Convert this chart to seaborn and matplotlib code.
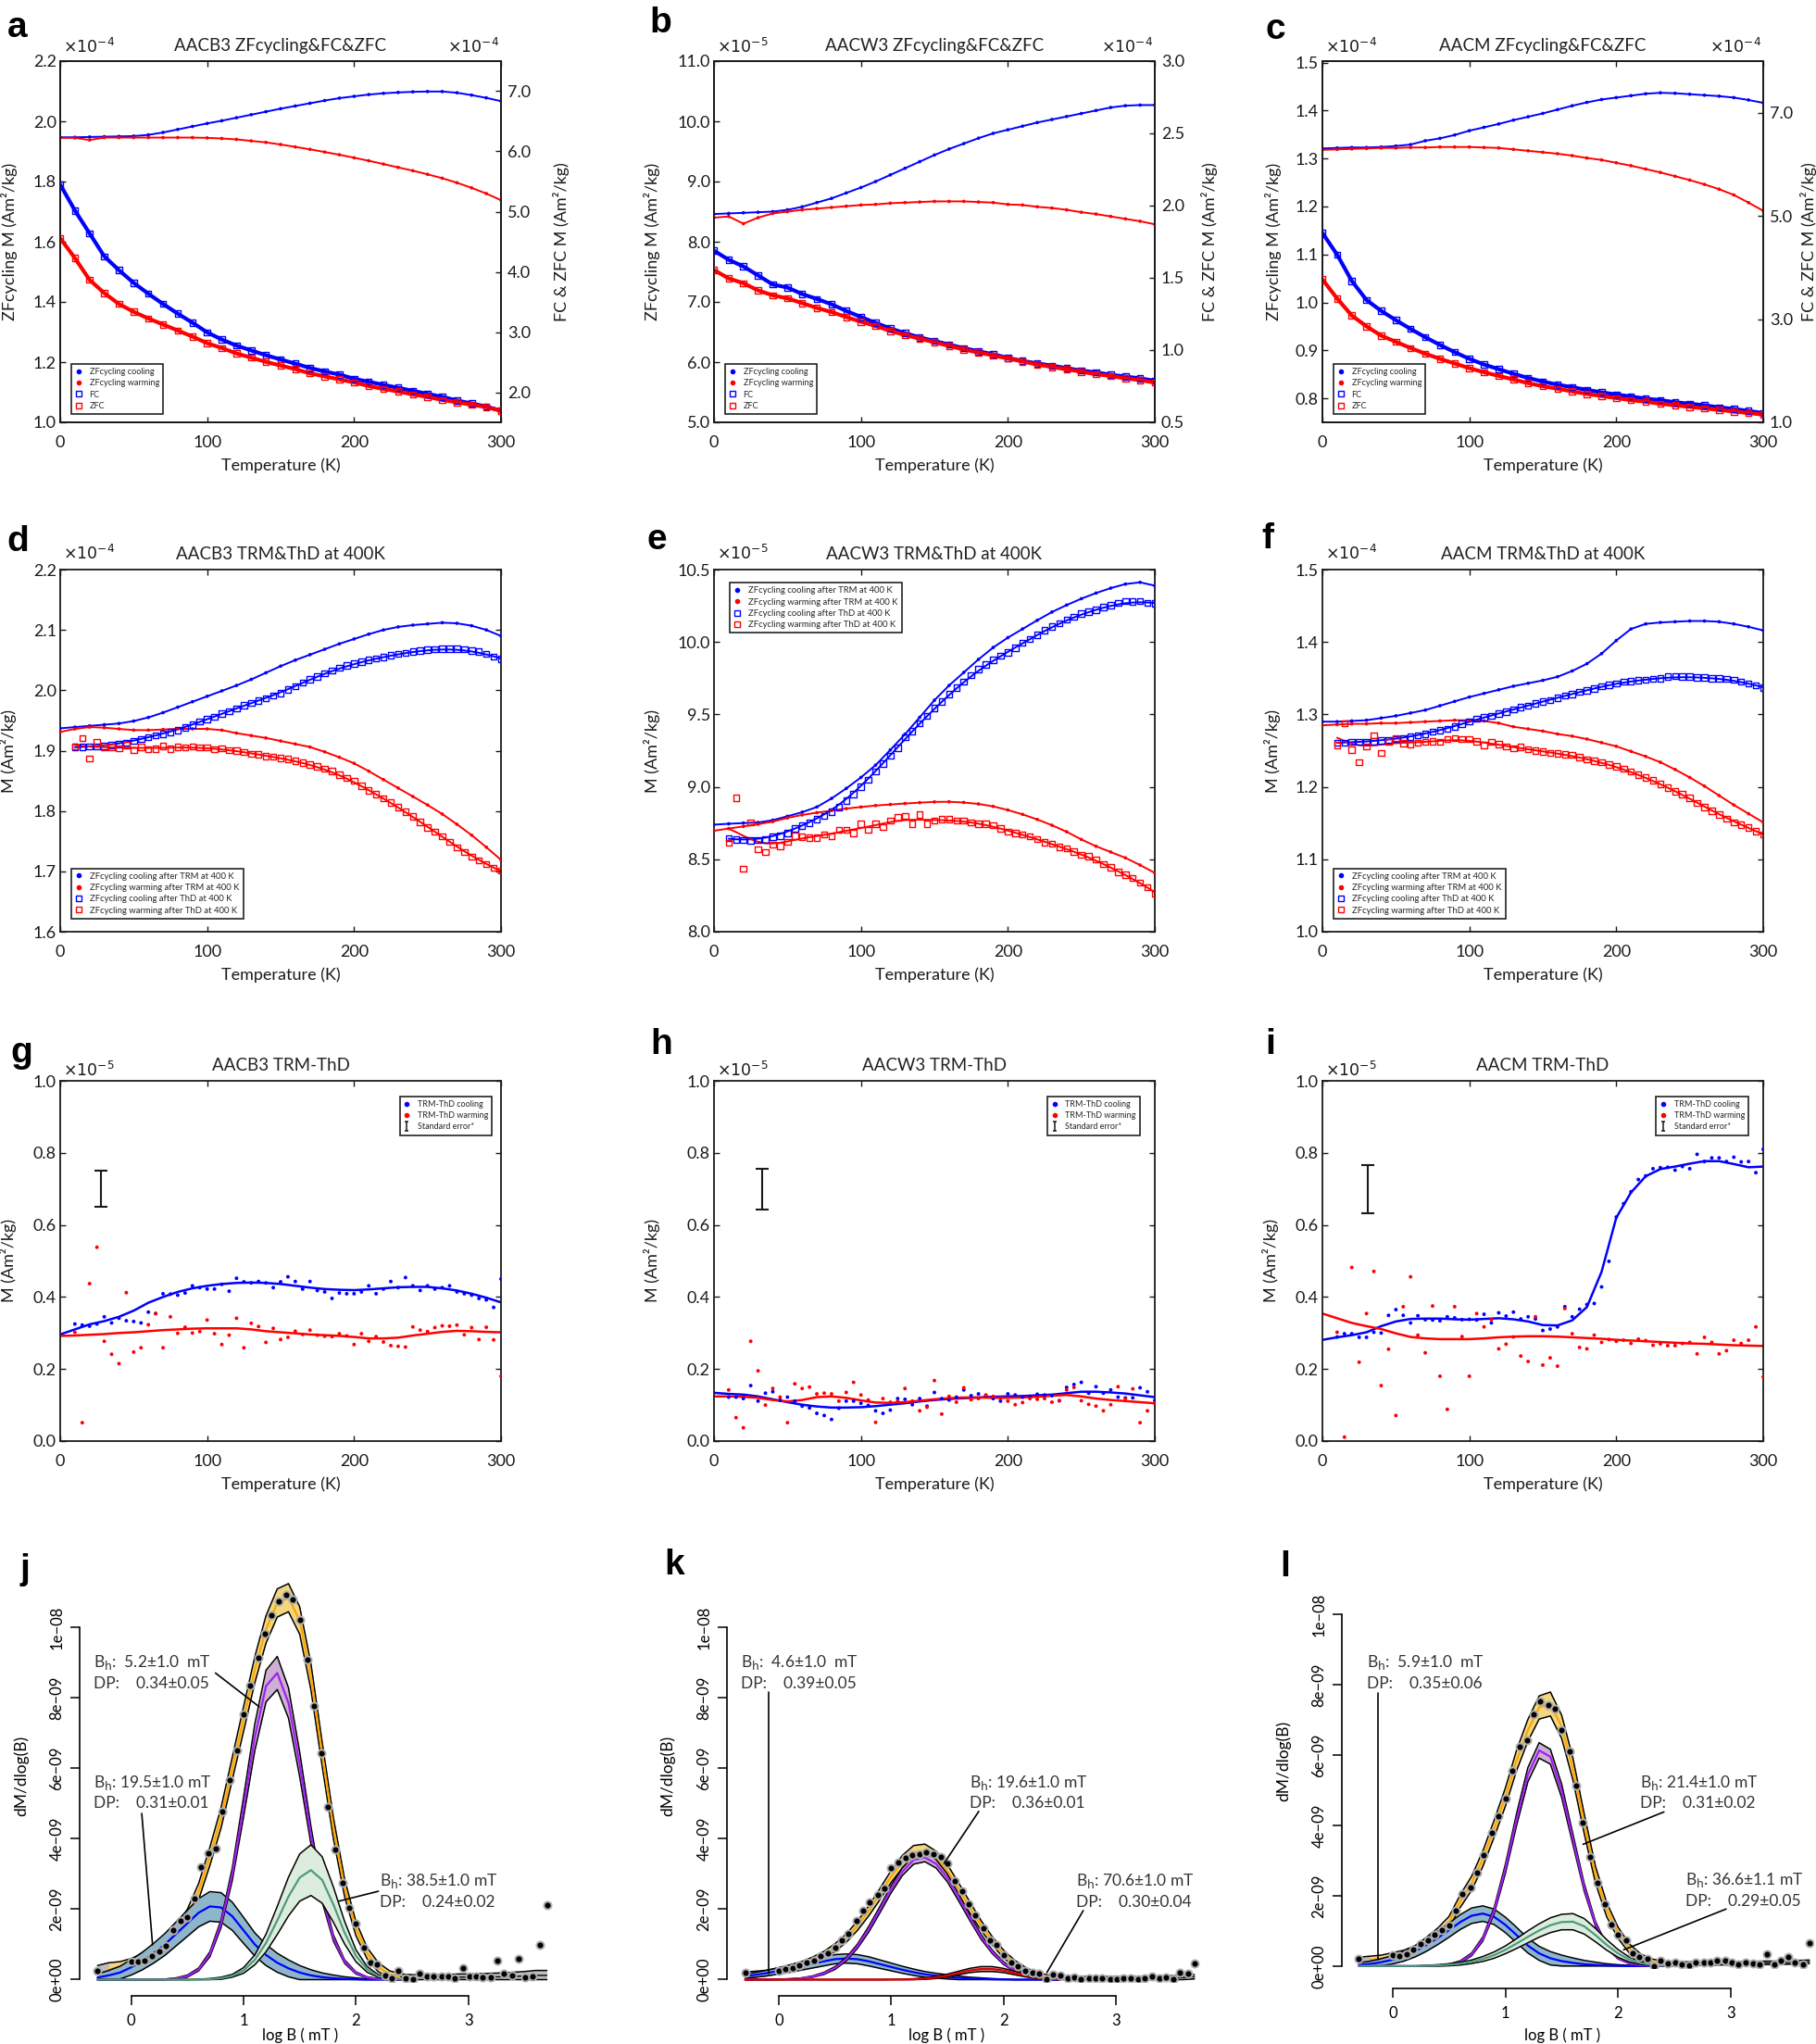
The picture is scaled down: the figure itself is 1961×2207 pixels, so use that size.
import numpy as np
import matplotlib
matplotlib.use("Agg")
import matplotlib.pyplot as plt
import seaborn as sns
from matplotlib.lines import Line2D
from matplotlib.path import Path

W, H = 1961, 2207

# temperature grids (K)
T10 = list(range(0, 301, 10))
TS = list(range(10, 301, 5))

# ---- a-c: ZFcycling (left axis) and FC / ZFC (right axis) ----
a_cool = [1.947, 1.947, 1.948, 1.949, 1.950, 1.951, 1.955, 1.963, 1.973, 1.983, 1.993, 2.002, 2.012, 2.022, 2.032, 2.042,
          2.051, 2.060, 2.069, 2.077, 2.083, 2.089, 2.093, 2.096, 2.098, 2.099, 2.099, 2.095, 2.087, 2.078, 2.067]
a_warm = [1.945, 1.945, 1.938, 1.946, 1.946, 1.946, 1.946, 1.946, 1.946, 1.946, 1.945, 1.943, 1.940, 1.935, 1.930, 1.923,
          1.915, 1.907, 1.898, 1.889, 1.879, 1.869, 1.858, 1.847, 1.836, 1.824, 1.811, 1.796, 1.779, 1.760, 1.738]
a_fc = [5.45, 5.02, 4.64, 4.26, 4.03, 3.82, 3.64, 3.47, 3.31, 3.16, 3.00, 2.88, 2.78, 2.70, 2.62, 2.55,
        2.48, 2.41, 2.35, 2.30, 2.23, 2.18, 2.13, 2.08, 2.03, 1.98, 1.93, 1.87, 1.82, 1.77, 1.70]
a_zfc = [4.56, 4.23, 3.87, 3.65, 3.47, 3.34, 3.23, 3.13, 3.03, 2.93, 2.82, 2.74, 2.65, 2.58, 2.51, 2.45,
         2.39, 2.32, 2.27, 2.22, 2.17, 2.11, 2.06, 2.02, 1.97, 1.93, 1.88, 1.84, 1.80, 1.76, 1.70]

b_cool = [8.46, 8.47, 8.48, 8.49, 8.50, 8.53, 8.58, 8.65, 8.72, 8.81, 8.90, 9.00, 9.11, 9.22, 9.33, 9.44,
          9.54, 9.63, 9.72, 9.80, 9.86, 9.92, 9.98, 10.03, 10.08, 10.13, 10.18, 10.23, 10.26, 10.27, 10.27]
b_warm = [8.40, 8.42, 8.30, 8.40, 8.47, 8.50, 8.53, 8.55, 8.57, 8.59, 8.61, 8.62, 8.64, 8.65, 8.66, 8.67,
          8.67, 8.67, 8.66, 8.65, 8.62, 8.61, 8.58, 8.56, 8.53, 8.49, 8.46, 8.42, 8.38, 8.34, 8.29]
b_fc = [1.688, 1.625, 1.579, 1.517, 1.454, 1.433, 1.388, 1.354, 1.317, 1.271, 1.229, 1.188, 1.150, 1.117, 1.088, 1.063,
        1.038, 1.013, 0.992, 0.971, 0.946, 0.925, 0.908, 0.892, 0.875, 0.858, 0.846, 0.829, 0.817, 0.804, 0.788]
b_zfc = [1.554, 1.496, 1.463, 1.413, 1.379, 1.358, 1.325, 1.292, 1.263, 1.229, 1.196, 1.167, 1.133, 1.104, 1.079, 1.054,
         1.029, 1.004, 0.983, 0.963, 0.942, 0.921, 0.900, 0.883, 0.867, 0.850, 0.833, 0.821, 0.804, 0.792, 0.775]

c_cool = [1.321, 1.322, 1.323, 1.323, 1.324, 1.326, 1.329, 1.337, 1.342, 1.349, 1.358, 1.365, 1.372, 1.380, 1.387, 1.394,
          1.402, 1.410, 1.417, 1.423, 1.427, 1.431, 1.435, 1.437, 1.436, 1.434, 1.432, 1.430, 1.427, 1.422, 1.416]
c_warm = [1.318, 1.319, 1.320, 1.321, 1.322, 1.322, 1.323, 1.323, 1.324, 1.324, 1.324, 1.323, 1.322, 1.319, 1.316, 1.313,
          1.310, 1.306, 1.301, 1.297, 1.291, 1.285, 1.278, 1.271, 1.263, 1.255, 1.246, 1.236, 1.224, 1.208, 1.191]
c_fc = [4.67, 4.25, 3.74, 3.37, 3.16, 2.98, 2.81, 2.65, 2.50, 2.36, 2.23, 2.12, 2.03, 1.94, 1.86, 1.79,
        1.73, 1.68, 1.63, 1.58, 1.54, 1.50, 1.46, 1.43, 1.39, 1.36, 1.33, 1.29, 1.26, 1.22, 1.18]
c_zfc = [3.77, 3.40, 3.07, 2.86, 2.68, 2.56, 2.44, 2.33, 2.23, 2.14, 2.05, 1.97, 1.90, 1.83, 1.76, 1.70,
         1.65, 1.60, 1.55, 1.51, 1.47, 1.43, 1.40, 1.36, 1.33, 1.30, 1.27, 1.24, 1.21, 1.18, 1.15]

# ---- d-f: TRM and ThD at 400 K ----
d_trm_cool = [1.937, 1.939, 1.941, 1.943, 1.945, 1.949, 1.955, 1.963, 1.972, 1.981, 1.990, 1.999, 2.008, 2.018, 2.029, 2.040,
              2.050, 2.059, 2.068, 2.077, 2.085, 2.093, 2.100, 2.105, 2.108, 2.110, 2.112, 2.111, 2.107, 2.100, 2.090]
d_trm_warm = [1.931, 1.936, 1.939, 1.938, 1.936, 1.934, 1.934, 1.935, 1.936, 1.936, 1.936, 1.934, 1.929, 1.925, 1.921, 1.916,
              1.911, 1.906, 1.898, 1.889, 1.879, 1.866, 1.852, 1.838, 1.824, 1.810, 1.795, 1.778, 1.760, 1.740, 1.719]
d_thd_cool = [1.906, 1.906, 1.907, 1.907, 1.908, 1.909, 1.911, 1.913, 1.916, 1.919,
              1.922, 1.925, 1.928, 1.931, 1.934, 1.938, 1.943, 1.948, 1.952, 1.956,
              1.961, 1.965, 1.970, 1.975, 1.979, 1.983, 1.987, 1.991, 1.995, 2.001,
              2.007, 2.013, 2.018, 2.023, 2.028, 2.033, 2.037, 2.041, 2.044, 2.047,
              2.050, 2.053, 2.055, 2.058, 2.060, 2.062, 2.064, 2.066, 2.067, 2.068,
              2.069, 2.069, 2.069, 2.068, 2.066, 2.064, 2.060, 2.056, 2.052]
d_thd_warm = [1.907, 1.921, 1.887, 1.914, 1.905, 1.906, 1.904, 1.909, 1.901, 1.906,
              1.902, 1.903, 1.908, 1.903, 1.906, 1.905, 1.907, 1.905, 1.905, 1.902,
              1.904, 1.901, 1.900, 1.898, 1.895, 1.894, 1.891, 1.890, 1.888, 1.886,
              1.883, 1.880, 1.877, 1.874, 1.870, 1.866, 1.860, 1.855, 1.850, 1.842,
              1.834, 1.828, 1.821, 1.814, 1.806, 1.799, 1.791, 1.782, 1.773, 1.766,
              1.758, 1.749, 1.740, 1.732, 1.724, 1.718, 1.712, 1.706, 1.701]

e_trm_cool = [8.739, 8.745, 8.750, 8.754, 8.770, 8.797, 8.825, 8.861, 8.920, 8.989, 9.065, 9.150, 9.255, 9.363, 9.480, 9.598,
              9.700, 9.790, 9.880, 9.962, 10.030, 10.090, 10.150, 10.207, 10.255, 10.299, 10.338, 10.372, 10.400, 10.412, 10.389]
e_trm_warm = [8.697, 8.712, 8.727, 8.742, 8.760, 8.786, 8.806, 8.822, 8.836, 8.850, 8.861, 8.871, 8.878, 8.885, 8.891, 8.896,
              8.897, 8.892, 8.882, 8.865, 8.840, 8.810, 8.775, 8.735, 8.690, 8.637, 8.590, 8.550, 8.510, 8.460, 8.406]
e_thd_cool = [8.647, 8.637, 8.632, 8.630, 8.632, 8.636, 8.654, 8.662, 8.680, 8.712,
              8.733, 8.752, 8.776, 8.800, 8.829, 8.860, 8.904, 8.950, 9.000, 9.050,
              9.107, 9.160, 9.214, 9.270, 9.342, 9.385, 9.438, 9.490, 9.545, 9.590,
              9.641, 9.685, 9.726, 9.770, 9.812, 9.845, 9.876, 9.905, 9.929, 9.960,
              9.994, 10.020, 10.050, 10.080, 10.107, 10.130, 10.154, 10.175, 10.197, 10.210,
              10.222, 10.240, 10.254, 10.270, 10.282, 10.280, 10.282, 10.270, 10.265]
e_thd_warm = [8.615, 8.925, 8.434, 8.754, 8.568, 8.551, 8.600, 8.590, 8.620, 8.662,
              8.654, 8.650, 8.650, 8.671, 8.660, 8.703, 8.703, 8.682, 8.746, 8.703,
              8.746, 8.724, 8.767, 8.788, 8.799, 8.746, 8.810, 8.746, 8.767, 8.778,
              8.778, 8.767, 8.767, 8.756, 8.746, 8.746, 8.735, 8.714, 8.692, 8.682,
              8.671, 8.660, 8.639, 8.618, 8.607, 8.585, 8.575, 8.553, 8.532, 8.521,
              8.500, 8.468, 8.446, 8.414, 8.393, 8.372, 8.340, 8.308, 8.265]

f_trm_cool = [1.290, 1.290, 1.291, 1.292, 1.295, 1.298, 1.302, 1.306, 1.312, 1.318, 1.324, 1.329, 1.334, 1.339, 1.343, 1.347,
              1.352, 1.360, 1.370, 1.384, 1.402, 1.418, 1.425, 1.427, 1.428, 1.429, 1.429, 1.428, 1.425, 1.421, 1.416]
f_trm_warm = [1.285, 1.286, 1.287, 1.287, 1.288, 1.288, 1.289, 1.290, 1.291, 1.292, 1.292, 1.291, 1.288, 1.283, 1.280, 1.277,
              1.273, 1.270, 1.266, 1.261, 1.256, 1.249, 1.242, 1.234, 1.224, 1.213, 1.201, 1.188, 1.175, 1.163, 1.151]
f_thd_cool = [1.261, 1.261, 1.262, 1.262, 1.262, 1.263, 1.264, 1.265, 1.266, 1.267,
              1.269, 1.271, 1.273, 1.276, 1.278, 1.280, 1.283, 1.287, 1.290, 1.294,
              1.296, 1.298, 1.301, 1.304, 1.307, 1.310, 1.312, 1.315, 1.318, 1.320,
              1.323, 1.326, 1.328, 1.331, 1.333, 1.336, 1.339, 1.341, 1.343, 1.345,
              1.346, 1.347, 1.348, 1.349, 1.350, 1.352, 1.353, 1.352, 1.352, 1.351,
              1.351, 1.350, 1.350, 1.349, 1.348, 1.345, 1.343, 1.340, 1.337]
f_thd_warm = [1.258, 1.288, 1.251, 1.234, 1.256, 1.271, 1.247, 1.262, 1.267, 1.260,
              1.259, 1.261, 1.262, 1.263, 1.262, 1.266, 1.267, 1.266, 1.266, 1.263,
              1.258, 1.262, 1.259, 1.256, 1.253, 1.255, 1.252, 1.250, 1.249, 1.247,
              1.246, 1.245, 1.244, 1.241, 1.238, 1.236, 1.234, 1.231, 1.228, 1.225,
              1.221, 1.217, 1.213, 1.209, 1.204, 1.199, 1.194, 1.190, 1.185, 1.178,
              1.172, 1.167, 1.162, 1.156, 1.151, 1.148, 1.144, 1.139, 1.134]

# ---- g-i: TRM-ThD difference (fit on T10, points on TS) ----
g_cool_fit = [0.296, 0.310, 0.324, 0.333, 0.345, 0.362, 0.384, 0.400, 0.414, 0.424, 0.431, 0.436, 0.439, 0.440, 0.439, 0.436,
              0.431, 0.426, 0.422, 0.420, 0.419, 0.421, 0.424, 0.427, 0.428, 0.428, 0.424, 0.418, 0.409, 0.398, 0.385]
g_warm_fit = [0.292, 0.293, 0.295, 0.297, 0.300, 0.302, 0.305, 0.308, 0.310, 0.312, 0.313, 0.313, 0.313, 0.310, 0.305, 0.302,
              0.299, 0.296, 0.294, 0.292, 0.289, 0.285, 0.285, 0.287, 0.293, 0.298, 0.303, 0.306, 0.305, 0.303, 0.302]
g_cool_pts = [0.325, 0.322, 0.319, 0.325, 0.345, 0.328, 0.341, 0.334, 0.332, 0.328,
              0.358, 0.354, 0.409, 0.408, 0.405, 0.411, 0.431, 0.426, 0.422, 0.422,
              0.435, 0.416, 0.452, 0.442, 0.439, 0.443, 0.439, 0.426, 0.442, 0.456,
              0.443, 0.422, 0.443, 0.418, 0.414, 0.396, 0.411, 0.409, 0.409, 0.414,
              0.431, 0.409, 0.422, 0.443, 0.426, 0.454, 0.431, 0.418, 0.431, 0.422,
              0.426, 0.431, 0.414, 0.409, 0.405, 0.396, 0.392, 0.371, 0.450]
g_warm_pts = [0.302, 0.051, 0.437, 0.538, 0.277, 0.241, 0.215, 0.412, 0.247, 0.259,
              0.323, 0.354, 0.259, 0.345, 0.299, 0.316, 0.300, 0.304, 0.336, 0.298,
              0.268, 0.294, 0.341, 0.259, 0.327, 0.318, 0.274, 0.313, 0.282, 0.288,
              0.305, 0.296, 0.308, 0.294, 0.291, 0.290, 0.298, 0.292, 0.268, 0.298,
              0.277, 0.290, 0.275, 0.265, 0.263, 0.261, 0.317, 0.308, 0.304, 0.315,
              0.320, 0.319, 0.322, 0.295, 0.315, 0.282, 0.316, 0.281, 0.180]

h_cool_fit = [0.134, 0.131, 0.129, 0.124, 0.116, 0.108, 0.101, 0.096, 0.093, 0.093, 0.094, 0.097, 0.101, 0.105, 0.110, 0.114,
              0.117, 0.119, 0.121, 0.123, 0.124, 0.125, 0.127, 0.129, 0.133, 0.137, 0.137, 0.135, 0.132, 0.127, 0.122]
h_warm_fit = [0.124, 0.124, 0.123, 0.120, 0.114, 0.110, 0.114, 0.122, 0.124, 0.120, 0.113, 0.107, 0.106, 0.108, 0.112, 0.116,
              0.119, 0.121, 0.121, 0.120, 0.120, 0.121, 0.123, 0.126, 0.128, 0.124, 0.118, 0.114, 0.111, 0.108, 0.105]
h_cool_pts = [0.122, 0.122, 0.118, 0.154, 0.111, 0.133, 0.137, 0.114, 0.122, 0.111,
              0.097, 0.092, 0.077, 0.071, 0.060, 0.091, 0.111, 0.111, 0.105, 0.099,
              0.084, 0.077, 0.086, 0.118, 0.116, 0.101, 0.118, 0.097, 0.135, 0.118,
              0.114, 0.122, 0.142, 0.126, 0.131, 0.126, 0.118, 0.111, 0.131, 0.128,
              0.122, 0.124, 0.130, 0.128, 0.126, 0.112, 0.149, 0.157, 0.163, 0.133,
              0.151, 0.133, 0.142, 0.122, 0.120, 0.120, 0.148, 0.137, 0.113]
h_warm_pts = [0.142, 0.065, 0.037, 0.277, 0.195, 0.100, 0.146, 0.122, 0.051, 0.159,
              0.146, 0.150, 0.131, 0.133, 0.131, 0.111, 0.135, 0.163, 0.128, 0.114,
              0.052, 0.118, 0.108, 0.110, 0.146, 0.111, 0.084, 0.094, 0.168, 0.075,
              0.124, 0.108, 0.148, 0.115, 0.118, 0.128, 0.124, 0.119, 0.111, 0.101,
              0.107, 0.118, 0.116, 0.118, 0.108, 0.112, 0.142, 0.149, 0.112, 0.102,
              0.097, 0.084, 0.101, 0.151, 0.118, 0.145, 0.051, 0.084, 0.105]

i_cool_fit = [0.281, 0.288, 0.294, 0.302, 0.319, 0.332, 0.339, 0.340, 0.340, 0.338, 0.337, 0.339, 0.341, 0.338, 0.332, 0.322,
              0.321, 0.335, 0.372, 0.470, 0.620, 0.690, 0.735, 0.755, 0.762, 0.770, 0.777, 0.777, 0.769, 0.760, 0.762]
i_warm_fit = [0.354, 0.341, 0.328, 0.319, 0.311, 0.299, 0.289, 0.285, 0.283, 0.283, 0.283, 0.285, 0.288, 0.290, 0.291, 0.291,
              0.290, 0.288, 0.286, 0.284, 0.281, 0.279, 0.277, 0.275, 0.273, 0.271, 0.270, 0.268, 0.266, 0.265, 0.264]
i_cool_pts = [0.289, 0.298, 0.298, 0.288, 0.288, 0.302, 0.300, 0.349, 0.365, 0.349,
              0.328, 0.348, 0.337, 0.336, 0.334, 0.345, 0.342, 0.337, 0.338, 0.336,
              0.352, 0.328, 0.356, 0.347, 0.358, 0.339, 0.345, 0.339, 0.307, 0.311,
              0.317, 0.373, 0.345, 0.366, 0.379, 0.382, 0.428, 0.499, 0.622, 0.659,
              0.692, 0.726, 0.736, 0.756, 0.759, 0.760, 0.752, 0.762, 0.756, 0.796,
              0.776, 0.786, 0.786, 0.776, 0.788, 0.775, 0.776, 0.745, 0.810]
i_warm_pts = [0.302, 0.011, 0.482, 0.219, 0.354, 0.471, 0.154, 0.255, 0.071, 0.373,
              0.456, 0.294, 0.245, 0.375, 0.180, 0.088, 0.373, 0.290, 0.180, 0.354,
              0.317, 0.337, 0.256, 0.269, 0.289, 0.236, 0.221, 0.345, 0.211, 0.231,
              0.208, 0.368, 0.298, 0.260, 0.256, 0.294, 0.274, 0.282, 0.277, 0.280,
              0.271, 0.283, 0.279, 0.266, 0.270, 0.265, 0.265, 0.271, 0.274, 0.242,
              0.288, 0.274, 0.242, 0.251, 0.280, 0.271, 0.280, 0.317, 0.178]

# standard error bars: temperature, centre, half length
err_T = [28, 33, 31]
err_mid = [0.700, 0.700, 0.699]
err_half = [0.050, 0.057, 0.067]

# ---- j-l: coercivity distributions (units of 1e-8) ----
GX = np.round(np.arange(-0.3, 2.51, 0.1), 1)   # component grid
SX = np.round(np.arange(-0.3, 3.71, 0.1), 1)   # sum grid
DX = [-0.30, 0.00, 0.06, 0.12, 0.18, 0.25, 0.31, 0.37, 0.44, 0.50, 0.56, 0.62, 0.69, 0.75, 0.81, 0.88, 0.94, 1.00, 1.06,
      1.13, 1.19, 1.25, 1.31, 1.38, 1.44, 1.50, 1.57, 1.63, 1.69, 1.75, 1.82, 1.88, 1.94, 2.00, 2.07, 2.13, 2.19, 2.26,
      2.32, 2.38, 2.44, 2.51, 2.57, 2.63, 2.69, 2.76, 2.82, 2.88, 2.95, 3.01, 3.07, 3.13, 3.20, 3.26, 3.32, 3.39, 3.45,
      3.51, 3.57, 3.64, 3.70]

j_blue = [0.006, 0.012, 0.020, 0.035, 0.053, 0.075, 0.100, 0.130, 0.160, 0.190, 0.208, 0.205, 0.180, 0.140, 0.100, 0.070,
          0.048, 0.032, 0.020, 0.012, 0.007, 0.004, 0.002, 0.001, 0, 0, 0, 0, 0]
j_blue_hw = [0.010, 0.014, 0.018, 0.022, 0.025, 0.028, 0.031, 0.034, 0.037, 0.040, 0.042, 0.042, 0.040, 0.037, 0.033,
             0.030, 0.027, 0.024, 0.020, 0.016, 0.012, 0.009, 0.006, 0.004, 0.002, 0.001, 0, 0, 0]
j_purple = [0, 0, 0, 0, 0, 0, 0.0007, 0.003, 0.010, 0.029, 0.072, 0.159, 0.300, 0.490, 0.688, 0.834, 0.871, 0.786, 0.611,
            0.410, 0.237, 0.118, 0.051, 0.019, 0.006, 0.002, 0.0005, 0, 0]
j_purple_hw = [0, 0, 0, 0, 0, 0, 0.001, 0.002, 0.003, 0.004, 0.007, 0.011, 0.018, 0.028, 0.038, 0.045, 0.047, 0.043,
               0.035, 0.025, 0.016, 0.009, 0.005, 0.003, 0.002, 0.001, 0, 0, 0]
j_green = [0, 0, 0, 0, 0, 0, 0, 0, 0, 0, 0.0012, 0.0039, 0.011, 0.026, 0.056, 0.104, 0.168, 0.236, 0.290, 0.311, 0.283,
           0.213, 0.133, 0.068, 0.029, 0.010, 0.003, 0.0008, 0]
j_green_hw = [0, 0, 0, 0, 0, 0, 0, 0, 0, 0.001, 0.002, 0.003, 0.004, 0.008, 0.014, 0.025, 0.040, 0.055, 0.067, 0.072,
              0.066, 0.050, 0.032, 0.017, 0.008, 0.004, 0.002, 0.001, 0]
j_sum = [0.020, 0.028, 0.036, 0.047, 0.060, 0.077, 0.100, 0.135, 0.180, 0.250, 0.350, 0.460, 0.600, 0.740, 0.880, 0.995,
         1.070, 1.085, 1.020, 0.860, 0.640, 0.430, 0.260, 0.145, 0.075, 0.035, 0.015, 0.008, 0.006, 0.006, 0.006, 0.006,
         0.007, 0.007, 0.007, 0.008, 0.008, 0.009, 0.010, 0.012, 0.012]
j_sum_hw = [0.020, 0.020, 0.015, 0.013, 0.014, 0.015, 0.016, 0.018, 0.020, 0.023, 0.026, 0.029, 0.032, 0.035, 0.037,
            0.039, 0.040, 0.040, 0.039, 0.037, 0.034, 0.030, 0.025, 0.020, 0.016, 0.013, 0.010, 0.008, 0.008, 0.008,
            0.008, 0.008, 0.009, 0.009, 0.010, 0.010, 0.011, 0.012, 0.013, 0.014, 0.014]
j_dots = [0.025, 0.050, 0.050, 0.053, 0.066, 0.080, 0.096, 0.140, 0.168, 0.177, 0.230, 0.320, 0.359, 0.373, 0.477, 0.567,
          0.650, 0.754, 0.835, 0.915, 0.983, 1.034, 1.074, 1.092, 1.081, 1.021, 0.908, 0.777, 0.643, 0.490, 0.369, 0.274,
          0.203, 0.160, 0.092, 0.048, 0.044, 0.013, 0.005, 0.025, 0.004, 0.002, 0.016, 0.009, 0.009, 0.009, 0.009, 0.004,
          0.034, 0.009, 0.009, 0.006, 0.006, 0.055, 0.018, 0.013, 0.059, 0.006, 0.009, 0.099, 0.211]

k_blue = [0.010, 0.014, 0.019, 0.025, 0.031, 0.038, 0.045, 0.052, 0.058, 0.060, 0.058, 0.052, 0.044, 0.036, 0.028, 0.021,
          0.015, 0.011, 0.008, 0.005, 0.003, 0.002, 0.001, 0.0005, 0, 0, 0, 0, 0]
k_blue_hw = [0.006, 0.007, 0.008, 0.009, 0.010, 0.011, 0.012, 0.013, 0.013, 0.013, 0.013, 0.013, 0.012, 0.011, 0.010,
             0.009, 0.008, 0.007, 0.006, 0.005, 0.004, 0.003, 0.002, 0.001, 0, 0, 0, 0, 0]
k_purple = [0, 0, 0.0002, 0.0006, 0.0016, 0.0039, 0.0086, 0.0175, 0.033, 0.058, 0.095, 0.143, 0.199, 0.257, 0.307, 0.340,
            0.347, 0.329, 0.289, 0.234, 0.176, 0.122, 0.079, 0.047, 0.026, 0.013, 0.006, 0.003, 0.001]
k_purple_hw = [0, 0, 0, 0, 0.001, 0.001, 0.002, 0.003, 0.004, 0.005, 0.006, 0.008, 0.009, 0.010, 0.011, 0.012, 0.012,
               0.012, 0.011, 0.010, 0.008, 0.007, 0.005, 0.004, 0.003, 0.002, 0.001, 0.001, 0]
k_red = [0, 0, 0, 0, 0, 0, 0, 0, 0, 0, 0, 0, 0, 0.0001, 0.0003, 0.001, 0.0028, 0.0061, 0.0116, 0.0188, 0.026, 0.030,
         0.030, 0.026, 0.0188, 0.0116, 0.0061, 0.0028, 0.001]
k_red_hw = [0, 0, 0, 0, 0, 0, 0, 0, 0, 0, 0, 0, 0, 0.0005, 0.001, 0.0015, 0.002, 0.003, 0.004, 0.005, 0.006, 0.007, 0.007,
            0.006, 0.005, 0.004, 0.003, 0.002, 0.001]
k_sum = [0.014, 0.016, 0.019, 0.026, 0.033, 0.042, 0.054, 0.070, 0.091, 0.118, 0.153, 0.195, 0.243, 0.293, 0.335, 0.362,
         0.365, 0.346, 0.309, 0.258, 0.205, 0.154, 0.110, 0.073, 0.045, 0.025, 0.012, 0.006, 0.004, 0.004, 0.003, 0.003,
         0.003, 0.003, 0.003, 0.003, 0.004, 0.004, 0.005, 0.006, 0.008]
k_sum_hw = [0.008, 0.008, 0.008, 0.008, 0.009, 0.009, 0.010, 0.010, 0.011, 0.012, 0.013, 0.014, 0.016, 0.017, 0.018,
            0.019, 0.020, 0.019, 0.018, 0.017, 0.016, 0.014, 0.012, 0.011, 0.010, 0.009, 0.008, 0.007, 0.006, 0.006,
            0.006, 0.006, 0.006, 0.006, 0.006, 0.006, 0.006, 0.006, 0.006, 0.006, 0.006]
k_dots = [0.020, 0.025, 0.030, 0.034, 0.040, 0.048, 0.053, 0.066, 0.076, 0.090, 0.113, 0.131, 0.168, 0.196, 0.219, 0.240,
          0.260, 0.316, 0.334, 0.345, 0.354, 0.357, 0.362, 0.357, 0.348, 0.329, 0.281, 0.251, 0.214, 0.182, 0.145, 0.113,
          0.099, 0.071, 0.048, 0.039, 0.025, 0.020, 0.016, 0.000, 0.015, 0.013, 0.005, 0.007, 0.002, 0.003, 0.003, 0.003,
          0.002, 0.002, 0.003, 0.003, 0.002, 0.004, 0.010, 0.004, 0.006, 0.000, 0.020, 0.018, 0.046]

l_blue = [0.003, 0.006, 0.011, 0.018, 0.028, 0.042, 0.060, 0.080, 0.102, 0.125, 0.143, 0.149, 0.140, 0.117, 0.088, 0.058,
          0.036, 0.022, 0.014, 0.009, 0.005, 0.003, 0.0015, 0.0007, 0, 0, 0, 0, 0]
l_blue_hw = [0.006, 0.008, 0.010, 0.012, 0.014, 0.016, 0.018, 0.019, 0.020, 0.021, 0.022, 0.022, 0.022, 0.022, 0.022,
             0.021, 0.020, 0.019, 0.017, 0.014, 0.011, 0.008, 0.005, 0.003, 0.002, 0.001, 0, 0, 0]
l_purple = [0, 0, 0, 0, 0, 0, 0.0002, 0.001, 0.0038, 0.012, 0.033, 0.077, 0.157, 0.276, 0.417, 0.544, 0.613, 0.595, 0.498,
            0.360, 0.224, 0.120, 0.056, 0.022, 0.0077, 0.0023, 0.0006, 0, 0]
l_purple_hw = [0, 0, 0, 0, 0, 0, 0.0005, 0.001, 0.002, 0.003, 0.004, 0.006, 0.009, 0.013, 0.017, 0.020, 0.022, 0.021,
               0.019, 0.015, 0.011, 0.007, 0.004, 0.002, 0.001, 0.0005, 0, 0, 0]
l_green = [0, 0, 0, 0, 0, 0, 0.0008, 0.0018, 0.0036, 0.0067, 0.012, 0.020, 0.031, 0.046, 0.064, 0.083, 0.101, 0.116,
           0.125, 0.126, 0.113, 0.088, 0.060, 0.036, 0.0185, 0.0084, 0.0033, 0.0011, 0.0003]
l_green_hw = [0, 0, 0, 0, 0, 0, 0.001, 0.002, 0.003, 0.004, 0.005, 0.007, 0.009, 0.011, 0.014, 0.017, 0.019, 0.021,
              0.022, 0.023, 0.022, 0.019, 0.015, 0.011, 0.007, 0.004, 0.002, 0.001, 0]
l_sum = [0.015, 0.018, 0.021, 0.027, 0.033, 0.045, 0.068, 0.093, 0.125, 0.185, 0.235, 0.305, 0.390, 0.480, 0.585, 0.670,
         0.735, 0.745, 0.680, 0.560, 0.405, 0.260, 0.160, 0.095, 0.050, 0.025, 0.012, 0.008, 0.007, 0.007, 0.007, 0.007,
         0.008, 0.008, 0.008, 0.008, 0.009, 0.009, 0.010, 0.011, 0.012]
l_sum_hw = [0.010, 0.010, 0.010, 0.011, 0.012, 0.013, 0.014, 0.015, 0.016, 0.018, 0.020, 0.022, 0.024, 0.026, 0.029,
            0.031, 0.033, 0.034, 0.033, 0.031, 0.028, 0.024, 0.020, 0.016, 0.013, 0.010, 0.008, 0.006, 0.005, 0.005,
            0.005, 0.005, 0.005, 0.005, 0.005, 0.005, 0.005, 0.005, 0.005, 0.005, 0.005]
l_dots = [0.020, 0.030, 0.028, 0.035, 0.046, 0.062, 0.074, 0.088, 0.103, 0.115, 0.157, 0.205, 0.223, 0.266, 0.316, 0.379,
          0.425, 0.476, 0.556, 0.623, 0.642, 0.716, 0.753, 0.743, 0.732, 0.671, 0.611, 0.512, 0.408, 0.309, 0.237, 0.177,
          0.117, 0.090, 0.074, 0.037, 0.026, 0.020, 0.000, 0.014, 0.008, 0.011, 0.006, 0.002, 0.009, 0.011, 0.009, 0.014,
          0.014, 0.011, 0.006, 0.011, 0.008, 0.005, 0.035, 0.005, 0.015, 0.025, 0.009, 0.005, 0.065]

# fitted component labels: (value line, DP line)
j_labels = [("5.2±1.0  mT", "0.34±0.05"), ("19.5±1.0 mT", "0.31±0.01"), ("38.5±1.0 mT", "0.24±0.02")]
k_labels = [("4.6±1.0  mT", "0.39±0.05"), ("19.6±1.0 mT", "0.36±0.01"), ("70.6±1.0 mT", "0.30±0.04")]
l_labels = [("5.9±1.0  mT", "0.35±0.06"), ("21.4±1.0 mT", "0.31±0.02"), ("36.6±1.1 mT", "0.29±0.05")]

# ---------------- style ----------------
sns.set_theme(style="ticks")
plt.rcParams["font.family"] = ["Lato", "DejaVu Sans"]
plt.rcParams["axes.unicode_minus"] = True

BLUE, RED, INK = "#0000FF", "#FF0000", "#1a1a1a"

fig = plt.figure(figsize=(W / 100, H / 100), dpi=100)


def px_box(left, top, right, bottom):
    return [left / W, 1 - bottom / H, (right - left) / W, (bottom - top) / H]


def letter(txt, x, y):
    fig.text(x / W, 1 - y / H, txt, fontsize=28, fontweight="bold", family=["Liberation Sans", "DejaVu Sans"],
             ha="center", va="center", color="black")


def loess(x, y, bw):
    # local linear smoothing, evaluated at the measured temperatures
    x = np.asarray(x, float)
    y = np.asarray(y, float)
    out = np.empty_like(y)
    for n, x0 in enumerate(x):
        w = np.exp(-0.5 * ((x - x0) / bw) ** 2)
        X = np.vstack([np.ones_like(x), x - x0]).T
        WX = X * w[:, None]
        out[n] = np.linalg.solve(X.T @ WX, WX.T @ y)[0]
    return out


COLS = [(65, 541), (771, 1247), (1428, 1904)]
ROWS = [(66, 456), (615, 1006), (1167, 1556)]
EXP_Y = [1.041, 1.047, 1.031]
TICK_FS, LABEL_FS = 13, 13


def temp_axes(col, row):
    l, r = COLS[col]
    t, b = ROWS[row]
    return fig.add_axes(px_box(l, t, r, b))


def finish_temp_axes(ax, lim, ticks, title, exp, ylabel, ylab_x, row, right_ticks=True):
    ax.set_xlim(0, 300)
    ax.set_xticks([0, 100, 200, 300])
    ax.set_xticklabels(["0", "100", "200", "300"])
    ax.set_ylim(*lim)
    ax.set_yticks(ticks)
    ax.set_yticklabels([f"{v:.1f}" for v in ticks])
    ax.tick_params(axis="both", direction="in", length=4, width=1, labelsize=TICK_FS, labelcolor=INK, color=INK)
    ax.tick_params(axis="x", pad=10, top=True, bottom=True)
    ax.tick_params(axis="y", pad=3, left=True, right=right_ticks, labelright=False)
    for s in ax.spines.values():
        s.set_linewidth(1.3)
        s.set_color(INK)
    ax.set_xlabel("Temperature (K)", fontsize=LABEL_FS, labelpad=6, color=INK)
    ax.set_ylabel(ylabel, fontsize=LABEL_FS, color=INK)
    ax.yaxis.set_label_coords(ylab_x, 0.5)
    ax.set_title(title, fontsize=13.5, pad=8, color="#222222")
    ax.text(0.006, EXP_Y[row], r"$\times10^{" + exp + "}$", transform=ax.transAxes, ha="left", va="center",
            fontsize=12.5, color=INK)


def dot_handle(c):
    return Line2D([], [], ls="none", marker="o", ms=3, color=c)


def sq_handle(c):
    return Line2D([], [], ls="none", marker="s", ms=4, mfc="none", mec=c, mew=1)


def small_legend(ax, handles, labels, loc, anchor, size):
    leg = ax.legend(handles, labels, loc=loc, bbox_to_anchor=anchor, borderaxespad=0, fontsize=size,
                    frameon=True, fancybox=False, edgecolor="#222222", facecolor="white", framealpha=1,
                    handlelength=0.8, handletextpad=0.9, labelspacing=0.35, borderpad=0.45)
    leg.get_frame().set_linewidth(1.2)
    leg.set_zorder(20)


def dots(ax, x, y, c, s=7):
    sns.scatterplot(x=x, y=y, ax=ax, s=s, color=c, edgecolor="none", linewidth=0, zorder=4)


def squares(ax, x, y, c):
    sns.scatterplot(x=x, y=y, ax=ax, marker="s", s=22, color=c, facecolor="none", edgecolor=c,
                    linewidth=1.0, zorder=4)


# ---------------- a-c ----------------
cycling = [
    (0, "AACB3 ZFcycling&FC&ZFC", a_cool, a_warm, a_fc, a_zfc, (1.0, 2.2), [1.0, 1.2, 1.4, 1.6, 1.8, 2.0, 2.2],
     (1.508, 7.496), [2.0, 3.0, 4.0, 5.0, 6.0, 7.0], "-4", "-4", -0.096, 1.117, "a", (19, 30)),
    (1, "AACW3 ZFcycling&FC&ZFC", b_cool, b_warm, b_fc, b_zfc, (5.0, 11.0), [5.0, 6.0, 7.0, 8.0, 9.0, 10.0, 11.0],
     (0.5, 3.0), [0.5, 1.0, 1.5, 2.0, 2.5, 3.0], "-5", "-4", -0.122, 1.104, "b", (713, 25)),
    (2, "AACM ZFcycling&FC&ZFC", c_cool, c_warm, c_fc, c_zfc, (0.75, 1.503), [0.8, 0.9, 1.0, 1.1, 1.2, 1.3, 1.4, 1.5],
     (1.0, 8.0), [1.0, 3.0, 5.0, 7.0], "-4", "-4", -0.092, 1.083, "c", (1377, 32)),
]
for (col, title, cool, warm, fc, zfc, llim, lticks, rlim, rticks, lexp, rexp, ylx, rlx, let, lxy) in cycling:
    ax = temp_axes(col, 0)
    sns.lineplot(x=T10, y=cool, ax=ax, color=BLUE, linewidth=1.4)
    dots(ax, T10, cool, BLUE)
    sns.lineplot(x=T10, y=warm, ax=ax, color=RED, linewidth=1.4)
    dots(ax, T10, warm, RED)
    ax2 = ax.twinx()
    sns.lineplot(x=T10, y=fc, ax=ax2, color=BLUE, linewidth=3)
    squares(ax2, T10, fc, BLUE)
    sns.lineplot(x=T10, y=zfc, ax=ax2, color=RED, linewidth=3)
    squares(ax2, T10, zfc, RED)
    finish_temp_axes(ax, llim, lticks, title, lexp, "ZFcycling M (Am²/kg)", ylx, 0, right_ticks=False)
    ax2.set_ylim(*rlim)
    ax2.set_yticks(rticks)
    ax2.set_yticklabels([f"{v:.1f}" for v in rticks])
    ax2.tick_params(axis="y", direction="in", length=4, width=1, labelsize=TICK_FS, labelcolor=INK, color=INK,
                    right=True, left=False, pad=5)
    for s in ax2.spines.values():
        s.set_linewidth(1.3)
        s.set_color(INK)
    ax2.set_ylabel("FC & ZFC M (Am²/kg)", fontsize=LABEL_FS, color=INK)
    ax2.yaxis.set_label_coords(rlx, 0.5)
    ax2.set_xlim(0, 300)
    ax.text(0.996, EXP_Y[0], r"$\times10^{" + rexp + "}$", transform=ax.transAxes, ha="right", va="center",
            fontsize=12.5, color=INK)
    small_legend(ax2, [dot_handle(BLUE), dot_handle(RED), sq_handle(BLUE), sq_handle(RED)],
                 ["ZFcycling cooling", "ZFcycling warming", "FC", "ZFC"], "lower left", (0.025, 0.023), 6.6)
    letter(let, *lxy)

# ---------------- d-f ----------------
trm_labels = ["ZFcycling cooling after TRM at 400 K", "ZFcycling warming after TRM at 400 K",
              "ZFcycling cooling after ThD at 400 K", "ZFcycling warming after ThD at 400 K"]
trm = [
    (0, "AACB3 TRM&ThD at 400K", d_trm_cool, d_trm_warm, d_thd_cool, d_thd_warm, (1.6, 2.2),
     [1.6, 1.7, 1.8, 1.9, 2.0, 2.1, 2.2], "-4", -0.099, "lower left", (0.025, 0.036), "d", (19, 585)),
    (1, "AACW3 TRM&ThD at 400K", e_trm_cool, e_trm_warm, e_thd_cool, e_thd_warm, (8.0, 10.5),
     [8.0, 8.5, 9.0, 9.5, 10.0, 10.5], "-5", -0.122, "upper left", (0.035, 0.964), "e", (709, 583)),
    (2, "AACM TRM&ThD at 400K", f_trm_cool, f_trm_warm, f_thd_cool, f_thd_warm, (1.0, 1.5),
     [1.0, 1.1, 1.2, 1.3, 1.4, 1.5], "-4", -0.094, "lower left", (0.025, 0.036), "f", (1369, 582)),
]
for (col, title, tc, tw, hc, hw_, lim, ticks, exp, ylx, loc, anchor, let, lxy) in trm:
    ax = temp_axes(col, 1)
    sns.lineplot(x=T10, y=tc, ax=ax, color=BLUE, linewidth=1.4)
    dots(ax, T10, tc, BLUE)
    sns.lineplot(x=T10, y=tw, ax=ax, color=RED, linewidth=1.4)
    dots(ax, T10, tw, RED)
    sns.lineplot(x=TS, y=loess(TS, hc, 12), ax=ax, color=BLUE, linewidth=1.4)
    squares(ax, TS, hc, BLUE)
    sns.lineplot(x=TS, y=loess(TS, hw_, 12), ax=ax, color=RED, linewidth=1.4)
    squares(ax, TS, hw_, RED)
    finish_temp_axes(ax, lim, ticks, title, exp, "M (Am²/kg)", ylx, 1)
    small_legend(ax, [dot_handle(BLUE), dot_handle(RED), sq_handle(BLUE), sq_handle(RED)], trm_labels,
                 loc, anchor, 6.8)
    letter(let, *lxy)

# ---------------- g-i ----------------
ibeam = Path([(-0.5, -1), (0.5, -1), (0, -1), (0, 1), (-0.5, 1), (0.5, 1)],
             [Path.MOVETO, Path.LINETO, Path.MOVETO, Path.LINETO, Path.MOVETO, Path.LINETO])
diff = [
    (0, "AACB3 TRM-ThD", g_cool_fit, g_warm_fit, g_cool_pts, g_warm_pts, -0.099, (0.98, 0.956), "g", (23, 1137)),
    (1, "AACW3 TRM-ThD", h_cool_fit, h_warm_fit, h_cool_pts, h_warm_pts, -0.122, (0.966, 0.956), "h", (714, 1128)),
    (2, "AACM TRM-ThD", i_cool_fit, i_warm_fit, i_cool_pts, i_warm_pts, -0.099, (0.967, 0.956), "i", (1372, 1128)),
]
for n, (col, title, cf, wf, cp, wp, ylx, anchor, let, lxy) in enumerate(diff):
    ax = temp_axes(col, 2)
    dots(ax, TS, cp, BLUE, s=8)
    dots(ax, TS, wp, RED, s=8)
    sns.lineplot(x=T10, y=cf, ax=ax, color=BLUE, linewidth=1.8)
    sns.lineplot(x=T10, y=wf, ax=ax, color=RED, linewidth=1.8)
    ax.errorbar([err_T[n]], [err_mid[n]], yerr=[err_half[n]], fmt="none", ecolor=INK, elinewidth=1.5,
                capsize=5, capthick=1.5)
    finish_temp_axes(ax, (0.0, 1.0), [0.0, 0.2, 0.4, 0.6, 0.8, 1.0], title, "-5", "M (Am²/kg)", ylx, 2)
    small_legend(ax, [dot_handle(BLUE), dot_handle(RED),
                      Line2D([], [], ls="none", marker=ibeam, ms=7, mfc="none", mec=INK, mew=1.1)],
                 ["TRM-ThD cooling", "TRM-ThD warming", "Standard error*"], "upper right", anchor, 6.5)
    letter(let, *lxy)

# ---------------- j-l ----------------
SUM_FILL, SUM_LINE, GREY = "#F3D77F", "#FFA500", "#BEBEBE"
BLUE_FILL, PURPLE_FILL, GREEN_FILL, RED_FILL = "#8DB6CB", "#CDB0D3", "#DDEDDD", "#D9A6A6"
PURPLE_LINE, GREEN_LINE, RED_LINE = "#A020F0", "#4E9A7C", "#E00000"
TXT = "#333333"


def band(ax, x, c, hw, fill, line, z):
    x = np.asarray(x)
    c = np.asarray(c, float)
    hw = np.asarray(hw, float)
    lo = np.clip(c - hw, 0, None)
    hi = c + hw
    ax.fill_between(x, lo, hi, color=fill, lw=0, zorder=z)
    ax.plot(x, lo, color="black", lw=1.1, zorder=z + 0.1)
    ax.plot(x, hi, color="black", lw=1.1, zorder=z + 0.1)
    sns.lineplot(x=x, y=c, ax=ax, color=line, linewidth=1.6, zorder=z + 0.2)


dist = [
    dict(box=(86, 1700, 600, 2140), xlim=(-0.459, 3.778), ylim=(-0.0066, 1.151), xoff=10.8,
         comps=[(j_blue, j_blue_hw, BLUE_FILL, BLUE), (j_purple, j_purple_hw, PURPLE_FILL, PURPLE_LINE),
                (j_green, j_green_hw, GREEN_FILL, GREEN_LINE)],
         s=j_sum, shw=j_sum_hw, d=j_dots, labels=j_labels,
         anchors=[(-0.338, 0.901), (-0.338, 0.56), (2.21, 0.279)],
         leaders=[[(0.75, 0.871), (1.14, 0.775)], [(0.094, 0.472), (0.19, 0.099)], [(2.2, 0.251), (1.85, 0.223)]],
         let="j", lxy=(27, 1695), ylab=(23, 1917.7), xlab=(323.6, 2198)),
    dict(box=(785, 1700, 1300, 2140), xlim=(-0.462, 3.784), ylim=(-0.0066, 1.151), xoff=10.8,
         comps=[(k_blue, k_blue_hw, BLUE_FILL, BLUE), (k_purple, k_purple_hw, PURPLE_FILL, PURPLE_LINE),
                (k_red, k_red_hw, RED_FILL, RED_LINE)],
         s=k_sum, shw=k_sum_hw, d=k_dots, labels=k_labels,
         anchors=[(-0.341, 0.901), (1.70, 0.56), (2.65, 0.279)],
         leaders=[[(-0.087, 0.816), (-0.087, 0.016)], [(1.78, 0.478), (1.47, 0.33)], [(2.71, 0.196), (2.386, 0.02)]],
         let="k", lxy=(728, 1690), ylab=(721.3, 1917.7), xlab=(1022.5, 2198)),
    dict(box=(1449, 1690, 1958, 2125), xlim=(-0.452, 3.734), ylim=(-0.0058, 1.1396), xoff=15.8,
         comps=[(l_blue, l_blue_hw, BLUE_FILL, BLUE), (l_purple, l_purple_hw, PURPLE_FILL, PURPLE_LINE),
                (l_green, l_green_hw, GREEN_FILL, GREEN_LINE)],
         s=l_sum, shw=l_sum_hw, d=l_dots, labels=l_labels,
         anchors=[(-0.229, 0.863), (2.198, 0.522), (2.60, 0.245)],
         leaders=[[(-0.134, 0.777), (-0.134, 0.018)], [(2.408, 0.438), (1.69, 0.346)], [(2.96, 0.162), (2.05, 0.046)]],
         let="l", lxy=(1388, 1692), ylab=(1385.8, 1901.9), xlab=(1686.6, 2198)),
]

for p in dist:
    ax = fig.add_axes(px_box(*p["box"]))
    sc = np.asarray(p["s"], float)
    sh = np.asarray(p["shw"], float)
    lo = np.clip(sc - sh, 0, None)
    hi = sc + sh
    mid = (SX >= -0.2) & (SX <= 2.4)
    ax.fill_between(SX, lo, hi, where=mid, color=SUM_FILL, lw=0, zorder=1)
    ax.fill_between(SX, lo, hi, where=SX <= -0.2, color=GREY, lw=0, zorder=1)
    ax.fill_between(SX, lo, hi, where=SX >= 2.4, color=GREY, lw=0, zorder=1)
    ax.plot(SX, lo, color="black", lw=1.1, zorder=1.1)
    ax.plot(SX, hi, color="black", lw=1.1, zorder=1.1)
    sns.lineplot(x=SX[mid], y=sc[mid], ax=ax, color=SUM_LINE, linewidth=1.6, zorder=1.2)
    sns.lineplot(x=SX[SX >= 2.4], y=sc[SX >= 2.4], ax=ax, color="black", linewidth=1.0, zorder=1.2)
    for z, (c, hw, fill, line) in enumerate(p["comps"]):
        band(ax, GX, c, hw, fill, line, 2 + z)
    sns.scatterplot(x=DX, y=p["d"], ax=ax, s=34, color="black", edgecolor="#AFAFAF", linewidth=1.4, zorder=8)

    for (val, dp), (ax_x, ax_y), seg in zip(p["labels"], p["anchors"], p["leaders"]):
        ax.text(ax_x, ax_y, r"B$_\mathrm{h}$:" + (" " if val[1] != "." else "  ") + val, fontsize=12.5,
                color=TXT, ha="left", va="center", zorder=9)
        ax.text(ax_x, ax_y - 0.06, "DP:    " + dp, fontsize=12.5, color=TXT, ha="left", va="center", zorder=9)
        (x0, y0), (x1, y1) = seg
        ax.plot([x0, x1], [y0, y1], color="black", lw=1.2, zorder=9)

    ax.set_xlim(*p["xlim"])
    ax.set_ylim(*p["ylim"])
    ax.spines["top"].set_visible(False)
    ax.spines["right"].set_visible(False)
    ax.spines["left"].set_bounds(0, 1.0)
    ax.spines["bottom"].set_bounds(0, 3)
    ax.spines["bottom"].set_position(("outward", p["xoff"]))
    for s in ("left", "bottom"):
        ax.spines[s].set_linewidth(1.2)
        ax.spines[s].set_color("black")
    ax.set_xticks([0, 1, 2, 3])
    ax.set_xticklabels(["0", "1", "2", "3"])
    ax.set_yticks([0, 0.2, 0.4, 0.6, 0.8, 1.0])
    ax.set_yticklabels(["0e+00", "2e−09", "4e−09", "6e−09", "8e−09", "1e−08"], rotation=90, va="center")
    ax.tick_params(direction="out", length=7, width=1.1, labelsize=12, colors="black")
    ax.tick_params(axis="x", pad=7)
    ax.tick_params(axis="y", pad=5)
    ax.set_xlabel("")
    ax.set_ylabel("")
    fig.text(p["ylab"][0] / W, 1 - p["ylab"][1] / H, "dM/dlog(B)", rotation=90, ha="center", va="center",
             fontsize=12.5, color="black")
    fig.text(p["xlab"][0] / W, 1 - p["xlab"][1] / H, "log B ( mT )", ha="center", va="center",
             fontsize=12, color="black")
    letter(p["let"], *p["lxy"])

fig.savefig("out.png", dpi=100)
